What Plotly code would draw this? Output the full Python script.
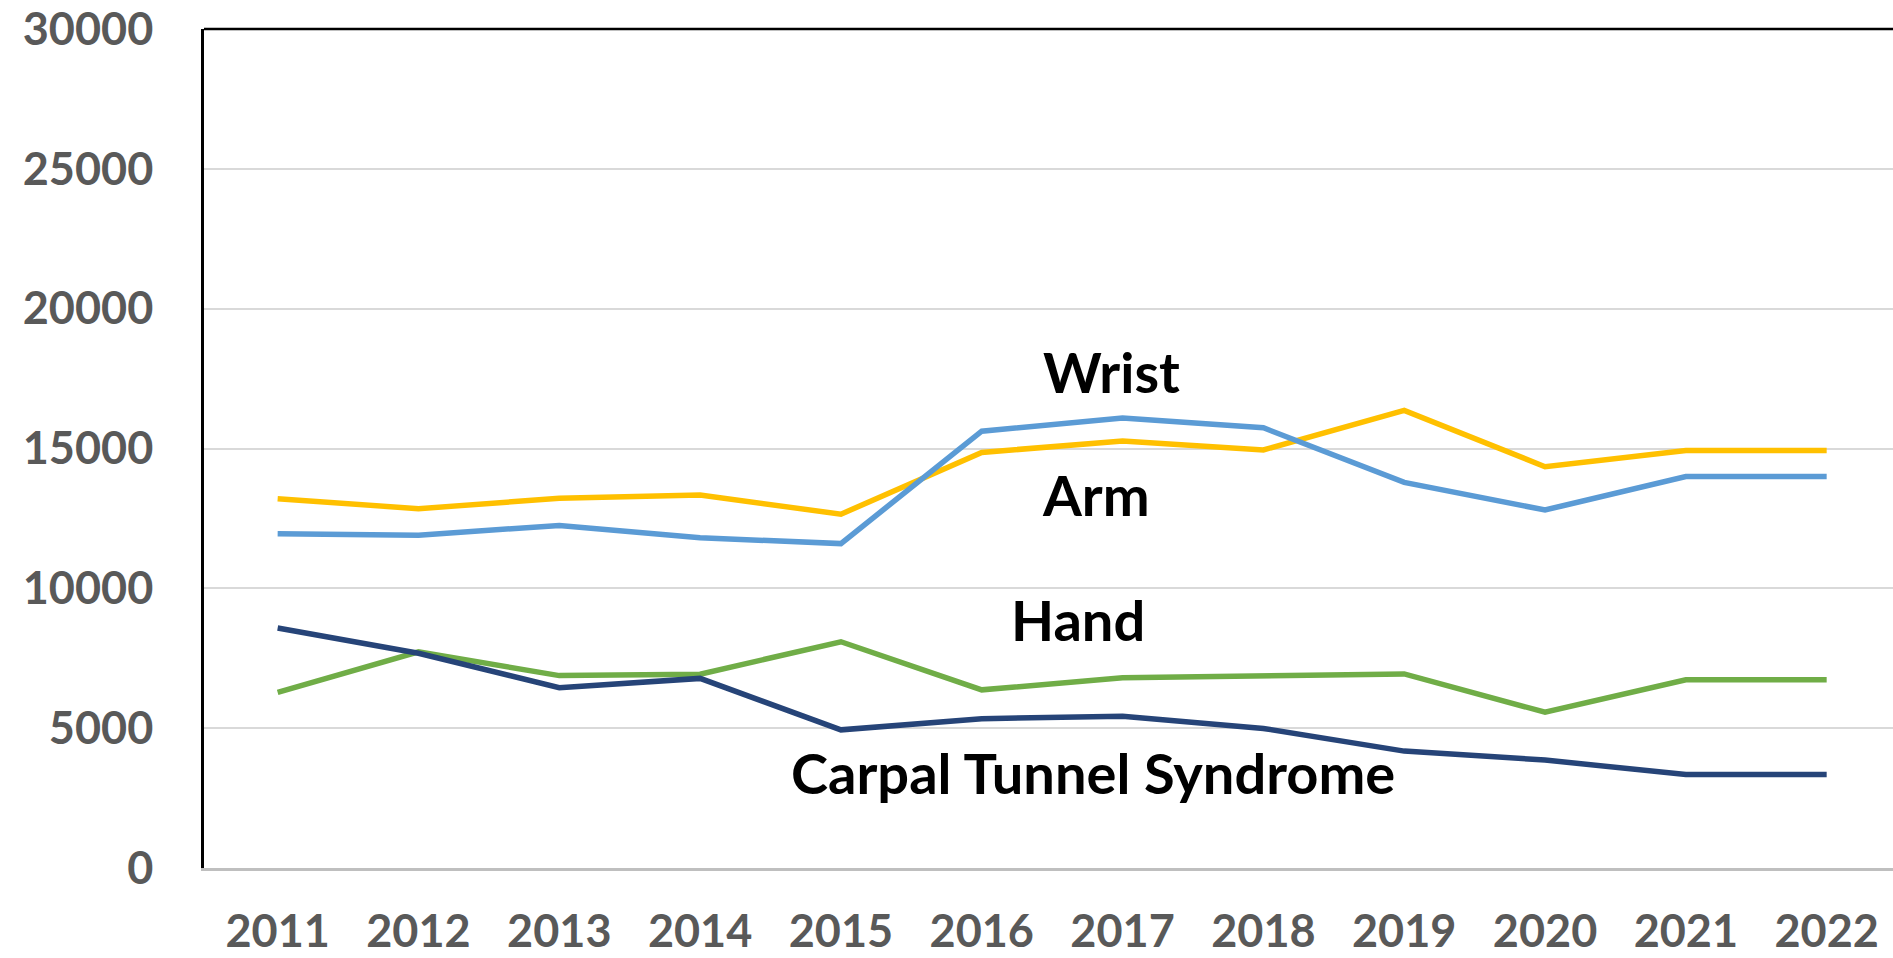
import plotly.graph_objects as go

years = ["2011", "2012", "2013", "2014", "2015", "2016", "2017", "2018", "2019", "2020", "2021", "2022"]
wrist = [13200, 12850, 13220, 13340, 12650, 14860, 15270, 14950, 16360, 14350, 14930, 14930]
arm = [11950, 11900, 12250, 11810, 11600, 15620, 16090, 15740, 13790, 12800, 14000, 14000]
hand = [6280, 7730, 6880, 6930, 8090, 6370, 6800, 6870, 6940, 5570, 6730, 6730]
cts = [8580, 7680, 6450, 6780, 4940, 5340, 5430, 4990, 4180, 3860, 3340, 3340]

y_ticks = [0, 5000, 10000, 15000, 20000, 25000, 30000]

labels = [
    ("Wrist", 5.92, 17750),
    ("Arm", 5.81, 13350),
    ("Hand", 5.68, 8900),
    ("Carpal Tunnel Syndrome", 5.79, 3400),
]

series = [
    ("Wrist", wrist, "#FFC000"),
    ("Arm", arm, "#5B9BD5"),
    ("Hand", hand, "#70AD47"),
    ("Carpal Tunnel Syndrome", cts, "#264478"),
]

fig = go.Figure()
for name, vals, col in series:
    fig.add_trace(go.Scatter(x=years, y=vals, mode="lines", name=name,
                             line=dict(color=col, width=5.5)))

for txt, x, y in labels:
    fig.add_annotation(x=x, y=y, text=txt, showarrow=False,
                       font=dict(family="Lato", size=56, color="#000000", weight="bold"),
                       xanchor="center", yanchor="middle")

font_tick = dict(family="Lato", size=45, color="#595959", weight="bold")

fig.update_layout(
    width=1893, height=958,
    margin=dict(l=204, r=0, t=29, b=90, pad=0),
    paper_bgcolor="white", plot_bgcolor="white",
    showlegend=False,
    xaxis=dict(type="category", range=[-0.523, 11.471], showgrid=False, automargin=False,
               showline=True, linecolor="#BFBFBF", linewidth=3, ticklabeloverflow="allow",
               ticks="", tickfont=font_tick, ticklabelstandoff=22, zeroline=False),
    yaxis=dict(range=[0, 30000], tickvals=y_ticks, ticktext=[str(v) for v in y_ticks],
               showgrid=True, gridcolor="#D9D9D9", gridwidth=1.5, automargin=False,
               showline=True, linecolor="#000000", linewidth=2.5, ticklabeloverflow="allow",
               ticks="", tickfont=font_tick, ticklabelstandoff=39, zeroline=False),
    shapes=[dict(type="line", xref="paper", yref="paper", x0=0, x1=1, y0=1, y1=1,
                 line=dict(color="#000000", width=2.5))],
)

fig.write_html("out.html", config={"displayModeBar": False},
               post_script="document.body.style.margin='0';document.body.style.overflow='hidden';")
